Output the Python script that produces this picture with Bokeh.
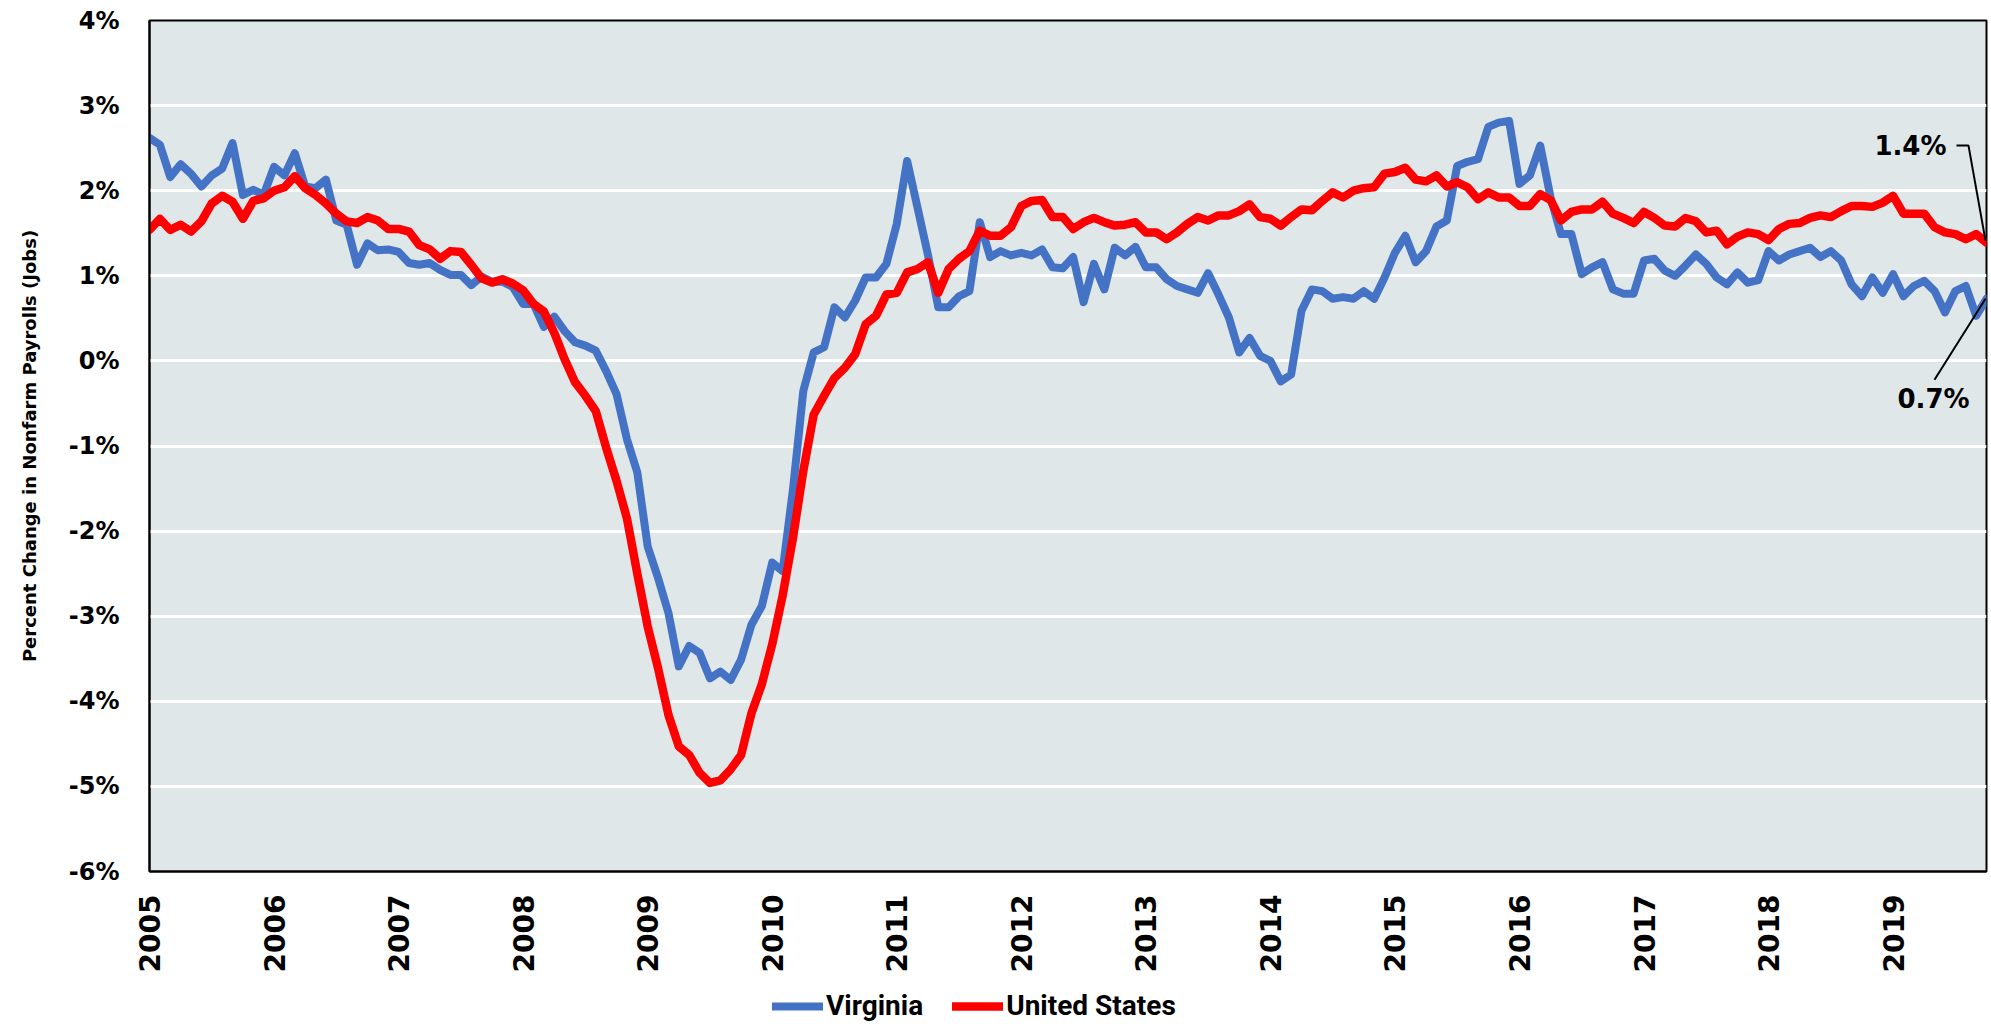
import math
from bokeh.plotting import figure
from bokeh.layouts import column
from bokeh.models import (Range1d, FixedTicker, PrintfTickFormatter, Legend,
                          LegendItem, Label)
from bokeh.embed import file_html
from bokeh.resources import INLINE

# ---------------- data ----------------
years = ["2005", "2006", "2007", "2008", "2009", "2010", "2011", "2012",
         "2013", "2014", "2015", "2016", "2017", "2018", "2019"]

series_names = ["Virginia", "United States"]

# monthly, Jan 2005 .. Oct 2019 (178 months)
virginia = [
    2.62, 2.54, 2.16, 2.31, 2.20, 2.05, 2.18, 2.26, 2.56, 1.95, 2.01, 1.95,
    2.28, 2.18, 2.44, 2.05, 2.03, 2.13, 1.65, 1.60, 1.13, 1.38, 1.30, 1.31,
    1.28, 1.15, 1.13, 1.15, 1.07, 1.01, 1.01, 0.89, 0.99, 0.93, 0.93, 0.87,
    0.67, 0.67, 0.40, 0.52, 0.35, 0.22, 0.18, 0.12, -0.12, -0.39, -0.92, -1.31,
    -2.18, -2.55, -2.96, -3.59, -3.35, -3.43, -3.73, -3.65, -3.75, -3.51, -3.10, -2.88,
    -2.37, -2.47, -1.51, -0.35, 0.10, 0.16, 0.63, 0.51, 0.71, 0.98, 0.98, 1.14,
    1.61, 2.35, 1.80, 1.25, 0.63, 0.63, 0.76, 0.82, 1.63, 1.22, 1.29, 1.24,
    1.27, 1.24, 1.31, 1.10, 1.09, 1.22, 0.69, 1.14, 0.84, 1.33, 1.24, 1.34,
    1.10, 1.10, 0.96, 0.88, 0.84, 0.80, 1.03, 0.78, 0.51, 0.10, 0.27, 0.06,
    0.00, -0.24, -0.16, 0.59, 0.84, 0.82, 0.73, 0.75, 0.73, 0.82, 0.73, 0.98,
    1.27, 1.47, 1.16, 1.29, 1.58, 1.65, 2.29, 2.34, 2.37, 2.75, 2.80, 2.82,
    2.08, 2.18, 2.53, 1.92, 1.49, 1.49, 1.02, 1.10, 1.16, 0.84, 0.79, 0.79,
    1.18, 1.20, 1.06, 1.00, 1.12, 1.25, 1.14, 0.98, 0.90, 1.04, 0.92, 0.95,
    1.29, 1.18, 1.25, 1.29, 1.33, 1.22, 1.29, 1.18, 0.90, 0.76, 0.98, 0.80,
    1.02, 0.76, 0.88, 0.94, 0.82, 0.57, 0.82, 0.88, 0.53, 0.73,
]

united_states = [
    1.54, 1.67, 1.54, 1.60, 1.52, 1.64, 1.85, 1.94, 1.87, 1.67, 1.88, 1.91,
    2.00, 2.04, 2.17, 2.03, 1.95, 1.85, 1.73, 1.64, 1.62, 1.69, 1.65, 1.55,
    1.55, 1.52, 1.36, 1.31, 1.20, 1.29, 1.28, 1.13, 0.97, 0.92, 0.96, 0.91,
    0.83, 0.67, 0.58, 0.33, 0.02, -0.25, -0.41, -0.59, -1.02, -1.41, -1.85, -2.50,
    -3.12, -3.61, -4.16, -4.53, -4.63, -4.84, -4.96, -4.93, -4.80, -4.63, -4.14, -3.80,
    -3.33, -2.76, -2.08, -1.29, -0.63, -0.41, -0.20, -0.08, 0.08, 0.43, 0.53, 0.78,
    0.80, 1.04, 1.08, 1.16, 0.80, 1.08, 1.20, 1.29, 1.53, 1.47, 1.47, 1.57,
    1.82, 1.88, 1.89, 1.69, 1.69, 1.55, 1.63, 1.68, 1.63, 1.59, 1.60, 1.63,
    1.51, 1.51, 1.43, 1.51, 1.61, 1.69, 1.65, 1.71, 1.71, 1.76, 1.84, 1.69,
    1.67, 1.59, 1.69, 1.78, 1.77, 1.88, 1.98, 1.92, 2.00, 2.03, 2.04, 2.20,
    2.22, 2.27, 2.13, 2.11, 2.18, 2.05, 2.10, 2.04, 1.90, 1.98, 1.92, 1.92,
    1.82, 1.82, 1.96, 1.89, 1.65, 1.75, 1.78, 1.78, 1.87, 1.73, 1.68, 1.62,
    1.75, 1.68, 1.59, 1.58, 1.68, 1.64, 1.51, 1.53, 1.37, 1.46, 1.51, 1.49,
    1.42, 1.55, 1.61, 1.62, 1.68, 1.71, 1.69, 1.76, 1.82, 1.82, 1.81, 1.86,
    1.94, 1.73, 1.73, 1.73, 1.57, 1.51, 1.49, 1.43, 1.49, 1.39,
]

months = list(range(len(virginia)))
y_ticks = [-6, -5, -4, -3, -2, -1, 0, 1, 2, 3, 4]

# ---------------- layout ----------------
W = 1990
H_MAIN = 975
H_LEG = 47
LEFT, RIGHT, TOP = 149, 4, 20
FRAME_BOTTOM = 871
BOTTOM = H_MAIN - FRAME_BOTTOM
FRAME_W = W - LEFT - RIGHT
FRAME_H = H_MAIN - TOP - BOTTOM

BLUE = "#4472C4"
RED = "#FF0000"
BG = "#E0E7E9"
TICK_FONT = "DejaVu Sans"
LINE_KW = dict(line_join="round", line_cap="round")

p = figure(width=W, height=H_MAIN, output_backend="svg", toolbar_location=None,
           x_range=Range1d(months[0], months[-1]),
           y_range=Range1d(y_ticks[0], y_ticks[-1]),
           min_border_left=LEFT, min_border_right=RIGHT,
           min_border_top=TOP, min_border_bottom=BOTTOM,
           background_fill_color=BG, border_fill_color="white")

p.outline_line_color = "black"
p.outline_line_width = 2

# grid
p.xgrid.visible = False
p.ygrid.ticker = FixedTicker(ticks=y_ticks)
p.ygrid.grid_line_color = "white"
p.ygrid.grid_line_width = 3

# y axis
p.yaxis.ticker = FixedTicker(ticks=y_ticks)
p.yaxis.formatter = PrintfTickFormatter(format="%d%%")
p.yaxis.major_tick_line_color = None
p.yaxis.minor_tick_line_color = None
p.yaxis.axis_line_color = "black"
p.yaxis.axis_line_width = 2
p.yaxis.major_label_standoff = 24
p.yaxis.major_label_text_font = TICK_FONT
p.yaxis.major_label_text_font_style = "bold"
p.yaxis.major_label_text_font_size = "24px"
p.yaxis.major_label_text_color = "black"
p.yaxis.axis_label = "Percent Change in Nonfarm Payrolls (Jobs)"
p.yaxis.axis_label_text_font = TICK_FONT
p.yaxis.axis_label_text_font_style = "bold"
p.yaxis.axis_label_text_font_size = "18px"
p.yaxis.axis_label_text_color = "black"
p.yaxis.axis_label_standoff = 26

# x axis
x_tick_pos = [i * 12 for i in range(len(years))]
p.xaxis.ticker = FixedTicker(ticks=x_tick_pos)
p.xaxis.major_label_overrides = {pos: lab for pos, lab in zip(x_tick_pos, years)}
p.xaxis.major_label_orientation = math.pi / 2
p.xaxis.major_tick_line_color = None
p.xaxis.minor_tick_line_color = None
p.xaxis.axis_line_color = "black"
p.xaxis.axis_line_width = 2
p.xaxis.major_label_standoff = 17
p.xaxis.major_label_text_font = TICK_FONT
p.xaxis.major_label_text_font_style = "bold"
p.xaxis.major_label_text_font_size = "28px"
p.xaxis.major_label_text_color = "black"

# series
p.line(months, virginia, line_color=BLUE, line_width=8, **LINE_KW)
p.line(months, united_states, line_color=RED, line_width=8.5, **LINE_KW)

# end-point annotations (pixel offsets converted to data units)
px_x = (months[-1] - months[0]) / FRAME_W
px_y = (y_ticks[-1] - y_ticks[0]) / FRAME_H
last_x = months[-1]
us_last = united_states[-1]
va_last = virginia[-1]

ANN_FONT = dict(text_font=TICK_FONT, text_font_style="bold",
                text_font_size="26px", text_color="black")

p.add_layout(Label(x=last_x - 40 * px_x, y=us_last + 97 * px_y,
                   text=f"{us_last:.1f}%", text_align="right",
                   text_baseline="middle", **ANN_FONT))
p.line([last_x - 30 * px_x, last_x - 18 * px_x, last_x - 1 * px_x],
       [us_last + 97 * px_y, us_last + 97 * px_y, us_last + 2 * px_y],
       line_color="black", line_width=2)

p.add_layout(Label(x=last_x - 53 * px_x, y=va_last - 100 * px_y,
                   text=f"{va_last:.1f}%", text_align="center",
                   text_baseline="middle", **ANN_FONT))
p.line([last_x - 52 * px_x, last_x - 1 * px_x],
       [va_last - 81 * px_y, va_last],
       line_color="black", line_width=2)

# ---------------- legend strip below ----------------
# key renderers carry the same series but the strip's y-range keeps them out of view
leg = figure(width=W, height=H_LEG, output_backend="svg", toolbar_location=None,
             x_range=Range1d(months[0], months[-1]),
             y_range=Range1d(100, 101),
             x_axis_type=None, y_axis_type=None,
             min_border=0, min_border_left=0, min_border_right=0,
             min_border_top=0, min_border_bottom=0,
             outline_line_color=None, background_fill_color="white",
             border_fill_color="white")
leg.xgrid.visible = False
leg.ygrid.visible = False
k_va = leg.line(months, virginia, line_color=BLUE, line_width=8, **LINE_KW)
k_us = leg.line(months, united_states, line_color=RED, line_width=8.5, **LINE_KW)

legend = Legend(items=[LegendItem(label=series_names[0], renderers=[k_va]),
                       LegendItem(label=series_names[1], renderers=[k_us])],
                orientation="horizontal", location=(623, 0),
                padding=0, margin=0, spacing=29, label_standoff=3,
                glyph_width=51, glyph_height=20, label_height=20,
                label_text_font="Roboto", label_text_font_style="bold",
                label_text_font_size="28px", label_text_color="black",
                border_line_color=None, background_fill_alpha=0)
leg.add_layout(legend, "center")

layout = column(p, leg, spacing=0)
open("out.html", "w").write(file_html(layout, INLINE))
